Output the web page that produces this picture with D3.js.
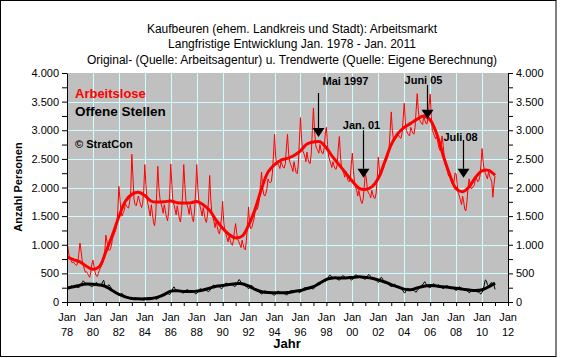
<!DOCTYPE html>
<html><head><meta charset="utf-8">
<script src="https://cdn.jsdelivr.net/npm/d3@7"></script>
<style>
body{margin:0;background:#fff}
svg{display:block}
text{font-family:"Liberation Sans",Arial,Helvetica,sans-serif}
</style>
</head><body>
<svg id="c" width="561" height="358"></svg>
<script>
// ---- DATA (monthly originals Jan 1978 .. Jan 2011) ----
const arbeitsloseOriginal = [
 1080, 930, 800, 760, 720, 680, 700, 670, 650, 640, 700, 850,      // 1978
 1030, 890, 730, 660, 580, 520, 530, 500, 460, 430, 520, 660,      // 1979
 730, 620, 520, 460, 445, 500, 560, 600, 640, 680, 760, 900,       // 1980
 1170, 1050, 950, 900, 920, 980, 1100, 1150, 1200, 1250, 1330, 1600, // 1981
 2020, 1800, 1560, 1500, 1560, 1600, 1720, 1680, 1650, 1640, 1760, 1950, // 1982
 2580, 2200, 1800, 1700, 1680, 1760, 1850, 1780, 1700, 1650, 1720, 1950, // 1983
 2400, 2050, 1800, 1700, 1600, 1500, 1700, 1550, 1400, 1330, 1500, 1900, // 1984
 2370, 2000, 1800, 1720, 1650, 1550, 1700, 1600, 1480, 1420, 1560, 1900, // 1985
 2410, 2050, 1750, 1700, 1620, 1520, 1680, 1560, 1450, 1400, 1580, 1900, // 1986
 2400, 2050, 1780, 1700, 1640, 1530, 1690, 1580, 1460, 1400, 1590, 1920, // 1987
 2400, 2000, 1760, 1680, 1600, 1500, 1650, 1540, 1430, 1390, 1520, 1800, // 1988
 2210, 1800, 1560, 1480, 1400, 1300, 1420, 1320, 1230, 1190, 1300, 1500, // 1989
 1760, 1400, 1250, 1180, 1120, 1050, 1150, 1080, 1010, 990, 1080, 1250,  // 1990
 1370, 1200, 1100, 1050, 1000, 950, 1080, 1000, 930, 910, 1080, 1350,    // 1991
 1660, 1350, 1280, 1300, 1380, 1450, 1580, 1600, 1620, 1680, 1800, 2050, // 1992
 2270, 2000, 1880, 1850, 1900, 1980, 2150, 2100, 2080, 2100, 2250, 2550, // 1993
 2930, 2550, 2400, 2420, 2380, 2330, 2450, 2400, 2350, 2340, 2420, 2700, // 1994
 2930, 2600, 2450, 2400, 2350, 2280, 2450, 2350, 2260, 2240, 2400, 2800, // 1995
 3220, 2850, 2650, 2600, 2550, 2450, 2620, 2500, 2430, 2420, 2600, 3000, // 1996
 3390, 3000, 2750, 2680, 2650, 2600, 2750, 2650, 2600, 2590, 2700, 2950, // 1997
 3050, 2750, 2550, 2480, 2420, 2350, 2450, 2380, 2330, 2320, 2400, 2700, // 1998
 2890, 2550, 2350, 2300, 2250, 2180, 2280, 2200, 2120, 2100, 2150, 2400, // 1999
 2600, 2300, 2100, 2000, 1950, 1850, 1950, 1850, 1760, 1720, 1800, 2000, // 2000
 2250, 2150, 1950, 1900, 1880, 1820, 1950, 1880, 1820, 1810, 1900, 2150, // 2001
 2530, 2300, 2200, 2250, 2300, 2350, 2450, 2450, 2500, 2550, 2700, 3000, // 2002
 3320, 3000, 2850, 2820, 2850, 2870, 2950, 2900, 2870, 2860, 2950, 3200, // 2003
 3470, 3150, 3000, 2950, 2920, 2900, 3050, 3000, 2950, 2930, 3050, 3350, // 2004
 3640, 3350, 3200, 3150, 3120, 3100, 3250, 3180, 3120, 3110, 3200, 3450, // 2005
 3630, 3250, 3000, 2950, 2900, 2850, 2900, 2800, 2700, 2650, 2700, 2900, // 2006
 2740, 2550, 2400, 2350, 2280, 2200, 2250, 2150, 2080, 2050, 2100, 2250, // 2007
 2240, 2050, 1900, 1850, 1780, 1700, 1850, 1750, 1620, 1590, 1750, 2000, // 2008
 2150, 2050, 1980, 1990, 2020, 2050, 2200, 2150, 2100, 2120, 2200, 2400, // 2009
 2680, 2450, 2300, 2250, 2200, 2150, 2280, 2200, 2150, 2100, 1830, 2050, // 2010
 2200                                                                    // 2011
];
const offeneStellenOriginal = [
 230, 225, 250, 265, 280, 270, 250, 265, 275, 260, 250, 255, // 1978
 270, 290, 340, 370, 350, 330, 310, 320, 300, 290, 280, 270, // 1979
 280, 290, 320, 340, 330, 310, 300, 290, 300, 360, 380, 280, // 1980
 240, 250, 290, 300, 270, 240, 210, 200, 180, 170, 160, 140, // 1981
 110, 120, 140, 150, 130, 110, 95, 90, 80, 70, 65, 50,       // 1982
 45, 50, 65, 75, 70, 60, 55, 55, 50, 45, 40, 35,             // 1983
 40, 45, 65, 75, 80, 70, 60, 65, 70, 65, 55, 50,             // 1984
 60, 75, 100, 120, 130, 140, 135, 140, 150, 145, 140, 130,   // 1985
 160, 190, 240, 265, 230, 210, 195, 200, 190, 180, 170, 160, // 1986
 160, 170, 200, 215, 210, 195, 190, 185, 180, 175, 165, 140, // 1987
 150, 175, 210, 230, 225, 215, 205, 210, 215, 200, 190, 180, // 1988
 200, 230, 270, 290, 295, 280, 270, 275, 280, 265, 250, 230, // 1989
 250, 270, 310, 330, 325, 310, 300, 305, 310, 300, 285, 270, // 1990
 280, 300, 350, 390, 380, 340, 320, 310, 300, 280, 270, 250, // 1991
 230, 250, 280, 290, 270, 240, 220, 210, 200, 185, 170, 150, // 1992
 140, 150, 180, 195, 190, 175, 165, 160, 155, 150, 140, 125, // 1993
 120, 135, 170, 190, 185, 170, 160, 155, 150, 145, 135, 125, // 1994
 130, 145, 180, 200, 200, 195, 185, 190, 195, 190, 180, 165, // 1995
 170, 190, 225, 245, 250, 240, 235, 240, 250, 245, 240, 230, // 1996
 230, 250, 290, 320, 330, 330, 330, 345, 360, 365, 370, 360, // 1997
 370, 400, 440, 470, 460, 430, 420, 425, 430, 415, 400, 390, // 1998
 380, 400, 440, 460, 455, 435, 420, 420, 430, 415, 400, 385, // 1999
 390, 410, 450, 475, 470, 450, 440, 440, 445, 430, 415, 400, // 2000
 400, 410, 450, 480, 470, 440, 415, 410, 405, 390, 380, 360, // 2001
 340, 360, 420, 430, 400, 370, 350, 340, 330, 315, 300, 280, // 2002
 270, 280, 300, 310, 295, 280, 265, 255, 245, 235, 225, 190, // 2003
 160, 165, 220, 240, 235, 220, 210, 200, 205, 200, 185, 170, // 2004
 200, 220, 260, 280, 290, 300, 330, 355, 320, 290, 270, 250, // 2005
 250, 265, 300, 320, 310, 290, 280, 290, 300, 280, 265, 245, // 2006
 235, 245, 270, 285, 280, 265, 255, 250, 250, 240, 230, 215, // 2007
 200, 215, 250, 265, 255, 240, 225, 225, 230, 215, 200, 185, // 2008
 160, 170, 200, 215, 210, 200, 190, 180, 175, 170, 150, 140, // 2009
 170, 200, 300, 385, 370, 300, 280, 300, 330, 340, 320, 300, // 2010
 220                                                         // 2011
];
// trend values, half-yearly (Jan, Jul) 1978 .. Jan 2011
const arbeitsloseTrend = [
 790, 740, 700, 625, 572, 620, 880, 1170, 1490, 1760, 1880, 1915,
 1860, 1760, 1745, 1750, 1765, 1735, 1730, 1730, 1755, 1700, 1600, 1430,
 1290, 1180, 1120, 1150, 1340, 1620, 1980, 2270, 2400, 2480, 2510, 2560,
 2640, 2760, 2795, 2800, 2690, 2530, 2390, 2250, 2110, 1990, 1965, 2010,
 2160, 2450, 2750, 2940, 3050, 3120, 3195, 3250, 3180, 2940, 2560, 2230,
 1980, 1925, 2010, 2180, 2290, 2300, 2215
];
const offeneStellenTrend = [
 240, 265, 295, 315, 312, 298, 270, 200, 135, 90, 62, 55,
 55, 62, 85, 130, 190, 195, 185, 185, 190, 210, 240, 275,
 290, 305, 320, 320, 280, 220, 180, 165, 163, 160, 165, 185,
 200, 235, 268, 330, 395, 420, 420, 420, 430, 440, 430, 415,
 385, 350, 305, 265, 225, 215, 245, 275, 290, 280, 265, 255,
 240, 225, 210, 200, 215, 265, 330
];
const xLabelYears = ["78","80","82","84","86","88","90","92","94","96","98","00","02","04","06","08","10","12"];
const yLabels = ["0","500","1.000","1.500","2.000","2.500","3.000","3.500","4.000"];
const annLabels = ["Mai 1997", "Jan. 01", "Juni 05", "Juli 08"];
const annDates  = [1997.33, 2000.85, 2005.78, 2008.56];
const annFrom   = [3650, 3000, 3790, 2830];
const annTo     = [2880, 2170, 3200, 2170];
const titles = [
 "Kaufbeuren (ehem. Landkreis und Stadt): Arbeitsmarkt",
 "Langfristige Entwicklung Jan. 1978 - Jan. 2011",
 "Original- (Quelle: Arbeitsagentur) u. Trendwerte (Quelle: Eigene Berechnung)"
];

// ---- CHART ----
const svg = d3.select("#c");
const L = 67, R = 508, T = 73, B = 302;
const x = d3.scaleLinear().domain([1978, 2012]).range([L, R]);
const y = d3.scaleLinear().domain([0, 4000]).range([B, T]);

svg.append("rect").attr("x",0.5).attr("y",0.5).attr("width",555.5).attr("height",356)
  .attr("fill","#fff").attr("stroke","#000").attr("stroke-width",1);

svg.append("rect").attr("x",L).attr("y",T).attr("width",R-L).attr("height",B-T).attr("fill","#c0c0c0");

const grid = svg.append("g").attr("stroke","#ccffff").attr("stroke-width",1);
d3.range(1980, 2012, 2).forEach(v => grid.append("line")
  .attr("x1", Math.round(x(v))+0.5).attr("x2", Math.round(x(v))+0.5).attr("y1", T).attr("y2", B));
d3.range(500, 4000, 500).forEach(v => grid.append("line")
  .attr("x1", L).attr("x2", R).attr("y1", Math.round(y(v))+0.5).attr("y2", Math.round(y(v))+0.5));

svg.append("defs").append("clipPath").attr("id","pc").append("rect")
  .attr("x",L).attr("y",T-2).attr("width",R-L).attr("height",B-T+2);

const monthly = arr => arr.map((v,i) => [1978 + i/12, v]);
const half = arr => arr.map((v,i) => [1978 + i/2, v]);
const line = d3.line().x(d => x(d[0])).y(d => y(d[1]));
const smooth = d3.line().x(d => x(d[0])).y(d => y(d[1])).curve(d3.curveCatmullRom.alpha(0.5));

const plot = svg.append("g").attr("clip-path","url(#pc)");
plot.append("path").attr("d", line(monthly(arbeitsloseOriginal))).attr("fill","none").attr("stroke","#ff0000").attr("stroke-width",1);
plot.append("path").attr("d", smooth(half(arbeitsloseTrend))).attr("fill","none").attr("stroke","#ff0000").attr("stroke-width",3);
plot.append("path").attr("d", line(monthly(offeneStellenOriginal))).attr("fill","none").attr("stroke","#000").attr("stroke-width",1);
plot.append("path").attr("d", smooth(half(offeneStellenTrend))).attr("fill","none").attr("stroke","#000").attr("stroke-width",3);

// axes
const fmt = d => (d % 500 === 0) ? yLabels[d/500] : "";
const yl = svg.append("g").attr("transform",`translate(${L},0)`)
  .call(d3.axisLeft(y).tickValues(d3.range(0,4001,250)).tickFormat(fmt).tickSize(5).tickSizeOuter(0).tickPadding(3));
const yr = svg.append("g").attr("transform",`translate(${R},0)`)
  .call(d3.axisRight(y).tickValues(d3.range(0,4001,250)).tickFormat(fmt).tickSize(5).tickSizeOuter(0).tickPadding(3));
const xa = svg.append("g").attr("transform",`translate(0,${B})`)
  .call(d3.axisBottom(x).tickValues(d3.range(1978,2013)).tickFormat("").tickSize(4).tickSizeOuter(0));
[yl, yr, xa].forEach(g => {
  g.selectAll("path,line").attr("stroke","#000");
  g.selectAll("text").attr("font-size","11px").attr("fill","#000")
   .style("font-family",'"Liberation Sans",Arial,sans-serif');
});

const xl = svg.append("g").attr("font-size","11px").attr("text-anchor","middle");
xLabelYears.forEach((lab,i) => {
  const xv = x(1978 + 2*i);
  xl.append("text").attr("x", xv).attr("y", 321).text("Jan");
  xl.append("text").attr("x", xv).attr("y", 335.5).text(lab);
});

svg.append("text").attr("x",287).attr("y",348).attr("text-anchor","middle")
  .attr("font-size","13px").attr("font-weight","bold").text("Jahr");
svg.append("text").attr("transform","translate(22,187) rotate(-90)").attr("text-anchor","middle")
  .attr("font-size","11px").attr("font-weight","bold").text("Anzahl Personen");

// titles
titles.forEach((t,i) => svg.append("text").attr("x",292).attr("y",33 + i*15.3)
  .attr("text-anchor","middle").attr("font-size","12px").text(t));

// legend
svg.append("text").attr("x",75).attr("y",98).attr("font-size","13px").attr("font-weight","bold")
  .attr("fill","#ff0000").text("Arbeitslose");
svg.append("text").attr("x",75).attr("y",115.5).attr("font-size","13.5px").attr("font-weight","bold")
  .attr("fill","#000").text("Offene Stellen");
svg.append("text").attr("x",75).attr("y",148).attr("font-size","11px").attr("font-weight","bold")
  .attr("fill","#000").text("\u00A9 StratCon");

// annotations
const textDx = [27, -2, -4, -3];
const textDy = [-8, -1.5, -1, 1.5];
annLabels.forEach((lab,i) => {
  const ax = Math.round(x(annDates[i])) + 0.5;
  const y0 = y(annFrom[i]), y1 = y(annTo[i]);
  const headTop = y1 - 9;
  svg.append("line").attr("x1",ax).attr("x2",ax).attr("y1",y0).attr("y2",headTop)
    .attr("stroke","#000").attr("stroke-width",1.2);
  svg.append("path").attr("d",`M${ax-6},${headTop}L${ax+6},${headTop}L${ax},${y1}Z`).attr("fill","#000");
  svg.append("text").attr("x", ax + textDx[i]).attr("y", y0 + textDy[i]).attr("text-anchor","middle")
    .attr("font-size","11px").attr("font-weight","bold").text(lab);
});
</script>
</body></html>
